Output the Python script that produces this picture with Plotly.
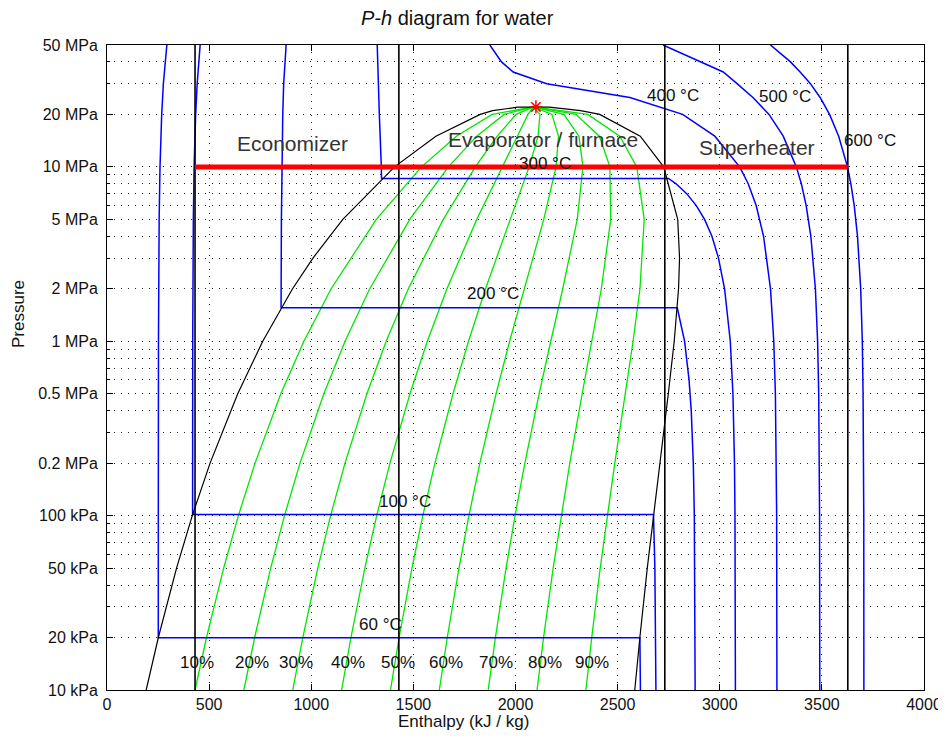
import math
import plotly.graph_objects as go

FONT = "Liberation Sans, Arial, Helvetica, sans-serif"

# ---------------- data (pressure in kPa, enthalpy in kJ/kg) ----------------
# saturation dome
sat_p = [10, 20, 50, 100, 200, 500, 1000, 2000, 3000, 5000, 10000, 15000, 20000, 21000, 22000, 22064]
sat_hf = [191.8, 251.4, 340.5, 417.5, 504.7, 640.1, 762.5, 908.5, 1008.3, 1154.5, 1407.9, 1610.2, 1827.2, 1888.0, 2011.0, 2087.5]
sat_hg = [2583.9, 2608.9, 2645.2, 2675.0, 2706.2, 2748.1, 2777.1, 2798.3, 2803.2, 2794.2, 2725.5, 2610.7, 2412.3, 2319.0, 2166.0, 2087.5]

# constant-quality lines
qual_p = [10, 20, 50, 100, 200, 500, 1000, 2000, 5000, 10000, 15000, 20000, 22064]
q10 = [431.0, 487.2, 571.0, 643.3, 724.9, 850.9, 964.0, 1097.5, 1318.5, 1539.7, 1710.3, 1885.7, 2087.5]
q20 = [670.2, 722.9, 801.4, 869.0, 945.0, 1061.7, 1165.4, 1286.5, 1482.4, 1671.4, 1810.3, 1944.2, 2087.5]
q30 = [909.4, 958.7, 1031.9, 1094.8, 1165.2, 1272.5, 1366.9, 1475.4, 1646.4, 1803.2, 1910.4, 2002.7, 2087.5]
q40 = [1148.6, 1194.4, 1262.4, 1320.5, 1385.3, 1483.3, 1568.3, 1664.4, 1810.4, 1934.9, 2010.4, 2061.2, 2087.5]
q50 = [1387.9, 1430.2, 1492.9, 1546.3, 1605.5, 1694.1, 1769.8, 1853.4, 1974.4, 2066.7, 2110.5, 2119.8, 2087.5]
q60 = [1627.1, 1665.9, 1723.3, 1772.0, 1825.6, 1904.9, 1971.3, 2042.4, 2138.3, 2198.5, 2210.5, 2178.3, 2087.5]
q70 = [1866.3, 1901.7, 1953.8, 1997.8, 2045.8, 2115.7, 2172.7, 2231.4, 2302.3, 2330.2, 2310.6, 2236.8, 2087.5]
q80 = [2105.5, 2137.4, 2184.3, 2223.5, 2265.9, 2326.5, 2374.2, 2420.3, 2466.3, 2462.0, 2410.6, 2295.3, 2087.5]
q90 = [2344.7, 2373.2, 2414.7, 2449.3, 2486.1, 2537.3, 2575.6, 2609.3, 2630.2, 2593.7, 2510.7, 2353.8, 2087.5]
qual_names = ["10%", "20%", "30%", "40%", "50%", "60%", "70%", "80%", "90%"]

# isotherms
t60_p = [50000, 30000, 20000, 10000, 5000, 1000, 100, 19.95, 19.95, 15, 10]
t60_h = [293.0, 276.0, 267.8, 259.5, 255.3, 252.0, 251.2, 251.1, 2609.0, 2610.5, 2611.6]
t100_p = [50000, 30000, 20000, 10000, 5000, 1000, 101.4, 101.4, 50, 20, 10]
t100_h = [456.0, 441.5, 434.0, 426.5, 422.7, 419.7, 419.1, 2675.6, 2682.4, 2686.2, 2687.5]
t200_p = [50000, 30000, 20000, 10000, 5000, 1555, 1555, 1000, 600, 400, 200, 100, 50, 10]
t200_h = [877.0, 865.0, 860.5, 856.0, 853.8, 852.3, 2792.0, 2827.9, 2849.7, 2860.4, 2870.5, 2875.5, 2877.7, 2879.5]
t300_p = [50000, 30000, 20000, 10000, 8588, 8588, 8000, 7000, 6000, 5000, 4000, 3000, 2000, 1000, 500, 200, 100, 10]
t300_h = [1323.0, 1327.9, 1333.3, 1343.1, 1344.0, 2749.0, 2786.5, 2839.4, 2885.0, 2925.7, 2961.7, 2993.9, 3023.6, 3051.6, 3064.6, 3072.1, 3074.5, 3076.7]
sup_p = [50000, 40000, 35000, 30000, 25000, 20000, 15000, 10000, 8000, 6000, 4000, 2000, 1000, 500, 100, 10]
t400_h = [1874.4, 1931.4, 1988.6, 2152.8, 2560.0, 2818.1, 2975.7, 3097.4, 3139.4, 3178.3, 3214.5, 3248.4, 3264.5, 3272.4, 3278.6, 3279.9]
t500_h = [2722.5, 2906.8, 3017.0, 3084.8, 3162.4, 3241.2, 3310.8, 3375.1, 3399.5, 3423.1, 3446.0, 3468.3, 3479.1, 3484.5, 3488.7, 3489.7]
t600_h = [3248.3, 3346.4, 3393.5, 3443.9, 3491.4, 3537.6, 3582.3, 3625.3, 3642.0, 3658.4, 3674.4, 3690.1, 3697.9, 3701.7, 3705.1, 3705.6]

# cycle
state_h = [431, 1429, 2731, 3627]
cycle_p = 10000
crit_h = [2100]
crit_p = [22064]

# axes
p_min, p_max = 10, 50000
y_tickvals = [10, 20, 50, 100, 200, 500, 1000, 2000, 5000, 10000, 20000, 50000]
y_ticktext = ["10 kPa", "20 kPa", "50 kPa", "100 kPa", "0.2 MPa", "0.5 MPa", "1 MPa",
              "2 MPa", "5 MPa", "10 MPa", "20 MPa", "50 MPa"]
y_minor = [m * d for d in [10, 100, 1000, 10000] for m in range(2, 10) if m * d < 50000]

# label positions
iso_labels = ["60 °C", "100 °C", "200 °C", "300 °C", "400 °C", "500 °C", "600 °C"]
iso_lab_h = [1224, 1322, 1752, 2007, 2633, 3182, 3598]
iso_lab_p = [23.6, 120, 1890, 10500, 25800, 25200, 14100]
qual_lab_h = [443, 708, 924, 1181, 1426, 1658, 1903, 2144, 2376]
qual_lab_p = 14.3
regions = ["Economizer", "Evaporator / furnace", "Superheater"]
region_h = [906, 2135, 3182]
region_p = [13700, 14300, 13000]

# ---------------- figure ----------------
fig = go.Figure()

for q in [q10, q20, q30, q40, q50, q60, q70, q80, q90]:
    fig.add_trace(go.Scatter(x=q, y=qual_p, mode="lines",
                             line=dict(color="#00e600", width=1.3), hoverinfo="skip"))

iso = [(t60_h, t60_p), (t100_h, t100_p), (t200_h, t200_p), (t300_h, t300_p),
       (t400_h, sup_p), (t500_h, sup_p), (t600_h, sup_p)]
for h, p in iso:
    fig.add_trace(go.Scatter(x=h, y=p, mode="lines",
                             line=dict(color="#0000ff", width=1.5), hoverinfo="skip"))

fig.add_trace(go.Scatter(x=sat_hf + sat_hg[::-1], y=sat_p + sat_p[::-1], mode="lines",
                         line=dict(color="#000000", width=1.2), hoverinfo="skip"))

for h in state_h:
    fig.add_trace(go.Scatter(x=[h, h], y=[p_min, p_max], mode="lines",
                             line=dict(color="#000000", width=1.6), hoverinfo="skip"))

fig.add_trace(go.Scatter(x=[state_h[0], state_h[-1]], y=[cycle_p, cycle_p], mode="lines",
                         line=dict(color="#ff0000", width=5), hoverinfo="skip"))

fig.add_trace(go.Scatter(x=crit_h, y=crit_p, mode="markers",
                         marker=dict(symbol="asterisk-open", size=11, color="#ff0000",
                                     line=dict(color="#ff0000", width=1.5)),
                         hoverinfo="skip"))

ann = []
for t, h, p in zip(iso_labels, iso_lab_h, iso_lab_p):
    ann.append(dict(x=h, y=math.log10(p), xref="x", yref="y", text=t, showarrow=False,
                    xanchor="left", yanchor="middle", font=dict(size=17, color="#111")))
for t, h in zip(qual_names, qual_lab_h):
    ann.append(dict(x=h, y=math.log10(qual_lab_p), xref="x", yref="y", text=t, showarrow=False,
                    xanchor="center", yanchor="middle", font=dict(size=17, color="#111")))
for t, h, p in zip(regions, region_h, region_p):
    ann.append(dict(x=h, y=math.log10(p), xref="x", yref="y", text=t, showarrow=False,
                    xanchor="center", yanchor="middle", font=dict(size=21, color="#333")))

# the page body has an 8px margin, so the figure is offset by 8px
OFF = 8
L, R, T, B = 107 - OFF, 22, 45 - OFF, 50
W, H = 946 - OFF, 740 - OFF
pw, ph = W - L - R, H - T - B
def px(x):
    return (x - OFF - L) / pw
def py(y):
    return (H - B - (y - OFF)) / ph

ann.append(dict(x=px(457), y=py(18), xref="paper", yref="paper",
                text="<i>P-h</i> diagram for water", showarrow=False,
                xanchor="center", yanchor="middle", font=dict(size=20, color="#111")))
ann.append(dict(x=px(463), y=py(721), xref="paper", yref="paper",
                text="Enthalpy (kJ / kg)", showarrow=False,
                xanchor="center", yanchor="middle", font=dict(size=17, color="#111")))
ann.append(dict(x=px(18), y=py(314), xref="paper", yref="paper",
                text="Pressure", showarrow=False, textangle=-90,
                xanchor="center", yanchor="middle", font=dict(size=17, color="#111")))

fig.update_layout(
    width=W, height=H,
    margin=dict(l=L, r=R, t=T, b=B, autoexpand=False),
    paper_bgcolor="white", plot_bgcolor="white",
    showlegend=False,
    font=dict(family=FONT, size=17, color="#111"),
    annotations=ann,
)
fig.update_xaxes(
    range=[0, 4000], tickvals=[0, 500, 1000, 1500, 2000, 2500, 3000, 3500, 4000],
    ticks="inside", ticklen=6, tickcolor="#000", automargin=False,
    showline=True, linecolor="#000", linewidth=1, mirror="ticks",
    showgrid=True, gridcolor="#222", griddash="1px,6px", gridwidth=1.2,
    zeroline=False, tickfont=dict(size=16),
)
fig.update_yaxes(
    type="log", range=[math.log10(p_min), math.log10(p_max)],
    tickvals=y_tickvals, ticktext=y_ticktext, automargin=False,
    ticks="inside", ticklen=6, tickcolor="#000", ticklabelstandoff=5,
    showline=True, linecolor="#000", linewidth=1, mirror="ticks",
    showgrid=True, gridcolor="#222", griddash="1px,6px", gridwidth=1.2,
    minor=dict(tickvals=y_minor, ticks="inside", ticklen=3, tickcolor="#000",
               showgrid=True, gridcolor="#222", griddash="1px,6px", gridwidth=1.2),
    zeroline=False, tickfont=dict(size=16),
)

fig.write_html("out.html")
